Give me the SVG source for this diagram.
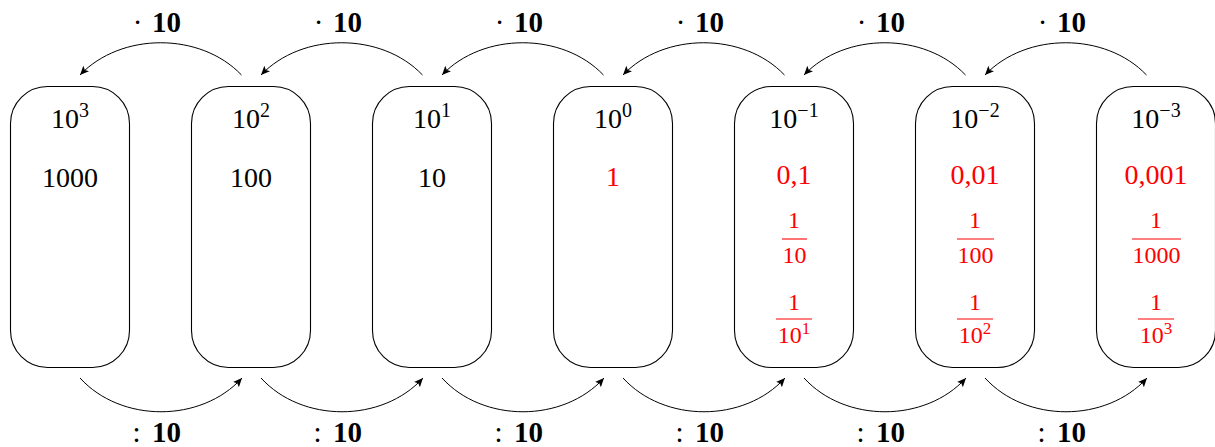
<svg xmlns="http://www.w3.org/2000/svg" width="1215" height="447" viewBox="0 0 1215 447">
<style>
.box{fill:#fff;stroke:#000;stroke-width:1.1}
.arc{fill:none;stroke:#000;stroke-width:1;marker-end:url(#ah)}
text{font-family:"Liberation Serif","Times New Roman",serif}
.pw{font-size:28px;fill:#000;text-anchor:middle}
.v{font-size:28px;text-anchor:middle}
.k{fill:#000}
.r{fill:#ff0000}
.fr{font-size:24px;fill:#ff0000;text-anchor:middle}
.bar{stroke:#ff0000;stroke-width:1.1}
.lbl{font-size:29px;fill:#000}
.b{font-weight:bold}
</style>
<defs>
<marker id="ah" markerUnits="userSpaceOnUse" markerWidth="12" markerHeight="10" refX="9" refY="4" orient="auto">
<path d="M0,0 L9,4 L0,8 L2,4 z" fill="#000"/>
</marker>
</defs>
<g id="connectors">
<path class="arc" d="M241.5,75 C200.5,32 121,32 80,75"/>
<path class="arc" d="M422.5,75 C381.5,32 302,32 261,75"/>
<path class="arc" d="M603.5,75 C562.5,32 483,32 442,75"/>
<path class="arc" d="M784.5,75 C743.5,32 664,32 623,75"/>
<path class="arc" d="M965.5,75 C924.5,32 845,32 804,75"/>
<path class="arc" d="M1146.5,75 C1105.5,32 1026,32 985,75"/>
<path class="arc" d="M80,378 C121,423 201,423 242,378"/>
<path class="arc" d="M261,378 C302,423 382,423 423,378"/>
<path class="arc" d="M442,378 C483,423 563,423 604,378"/>
<path class="arc" d="M623,378 C664,423 744,423 785,378"/>
<path class="arc" d="M804,378 C845,423 925,423 966,378"/>
<path class="arc" d="M985,378 C1026,423 1106,423 1147,378"/>
</g>
<g id="labels">
<g class="lbl"><text x="137.5" y="32" text-anchor="middle">·</text><text class="b" x="152" y="32">10</text></g>
<g class="lbl"><text x="318.5" y="32" text-anchor="middle">·</text><text class="b" x="333" y="32">10</text></g>
<g class="lbl"><text x="499.5" y="32" text-anchor="middle">·</text><text class="b" x="514" y="32">10</text></g>
<g class="lbl"><text x="680.5" y="32" text-anchor="middle">·</text><text class="b" x="695" y="32">10</text></g>
<g class="lbl"><text x="861.5" y="32" text-anchor="middle">·</text><text class="b" x="876" y="32">10</text></g>
<g class="lbl"><text x="1042.5" y="32" text-anchor="middle">·</text><text class="b" x="1057" y="32">10</text></g>
<g class="lbl"><text x="136.5" y="442" text-anchor="middle">:</text><text class="b" x="152" y="442">10</text></g>
<g class="lbl"><text x="317.5" y="442" text-anchor="middle">:</text><text class="b" x="333" y="442">10</text></g>
<g class="lbl"><text x="498.5" y="442" text-anchor="middle">:</text><text class="b" x="514" y="442">10</text></g>
<g class="lbl"><text x="679.5" y="442" text-anchor="middle">:</text><text class="b" x="695" y="442">10</text></g>
<g class="lbl"><text x="860.5" y="442" text-anchor="middle">:</text><text class="b" x="876" y="442">10</text></g>
<g class="lbl"><text x="1041.5" y="442" text-anchor="middle">:</text><text class="b" x="1057" y="442">10</text></g>
</g>
<g id="n1000">
<rect class="box" x="10.5" y="86.5" width="119" height="281" rx="37" ry="37"/>
<text class="pw" x="70" y="128">10<tspan dy="-11" font-size="20">3</tspan></text>
<text class="v k" x="70" y="187">1000</text>
</g>
<g id="n100">
<rect class="box" x="191.5" y="86.5" width="119" height="281" rx="37" ry="37"/>
<text class="pw" x="251" y="128">10<tspan dy="-11" font-size="20">2</tspan></text>
<text class="v k" x="251" y="187">100</text>
</g>
<g id="n10">
<rect class="box" x="372.5" y="86.5" width="119" height="281" rx="37" ry="37"/>
<text class="pw" x="432" y="128">10<tspan dy="-11" font-size="20">1</tspan></text>
<text class="v k" x="432" y="187">10</text>
</g>
<g id="n1">
<rect class="box" x="553.5" y="86.5" width="119" height="281" rx="37" ry="37"/>
<text class="pw" x="613" y="128">10<tspan dy="-11" font-size="20">0</tspan></text>
<text class="v r" x="613" y="186">1</text>
</g>
<g id="n0_1">
<rect class="box" x="734.5" y="86.5" width="119" height="281" rx="37" ry="37"/>
<text class="pw" x="794" y="128">10<tspan dy="-11" font-size="20">−1</tspan></text>
<text class="v r" x="794" y="184">0,1</text>
<text class="fr" x="794" y="228">1</text>
<line class="bar" x1="782" y1="239" x2="807" y2="239"/>
<text class="fr" x="794.5" y="263">10</text>
<text class="fr" x="794" y="310">1</text>
<line class="bar" x1="776" y1="319" x2="812" y2="319"/>
<text class="fr" x="794" y="343">10<tspan dy="-9" font-size="17">1</tspan></text>
</g>
<g id="n0_01">
<rect class="box" x="915.5" y="86.5" width="119" height="281" rx="37" ry="37"/>
<text class="pw" x="975" y="128">10<tspan dy="-11" font-size="20">−2</tspan></text>
<text class="v r" x="975" y="184">0,01</text>
<text class="fr" x="975" y="228">1</text>
<line class="bar" x1="957" y1="239" x2="994" y2="239"/>
<text class="fr" x="975.5" y="263">100</text>
<text class="fr" x="975" y="310">1</text>
<line class="bar" x1="957" y1="319" x2="993" y2="319"/>
<text class="fr" x="975" y="343">10<tspan dy="-9" font-size="17">2</tspan></text>
</g>
<g id="n0_001">
<rect class="box" x="1096.5" y="86.5" width="119" height="281" rx="37" ry="37"/>
<text class="pw" x="1156" y="128">10<tspan dy="-11" font-size="20">−3</tspan></text>
<text class="v r" x="1156" y="184">0,001</text>
<text class="fr" x="1156" y="228">1</text>
<line class="bar" x1="1132" y1="239" x2="1181" y2="239"/>
<text class="fr" x="1156.5" y="263">1000</text>
<text class="fr" x="1156" y="310">1</text>
<line class="bar" x1="1138" y1="319" x2="1174" y2="319"/>
<text class="fr" x="1156" y="343">10<tspan dy="-9" font-size="17">3</tspan></text>
</g>
</svg>
